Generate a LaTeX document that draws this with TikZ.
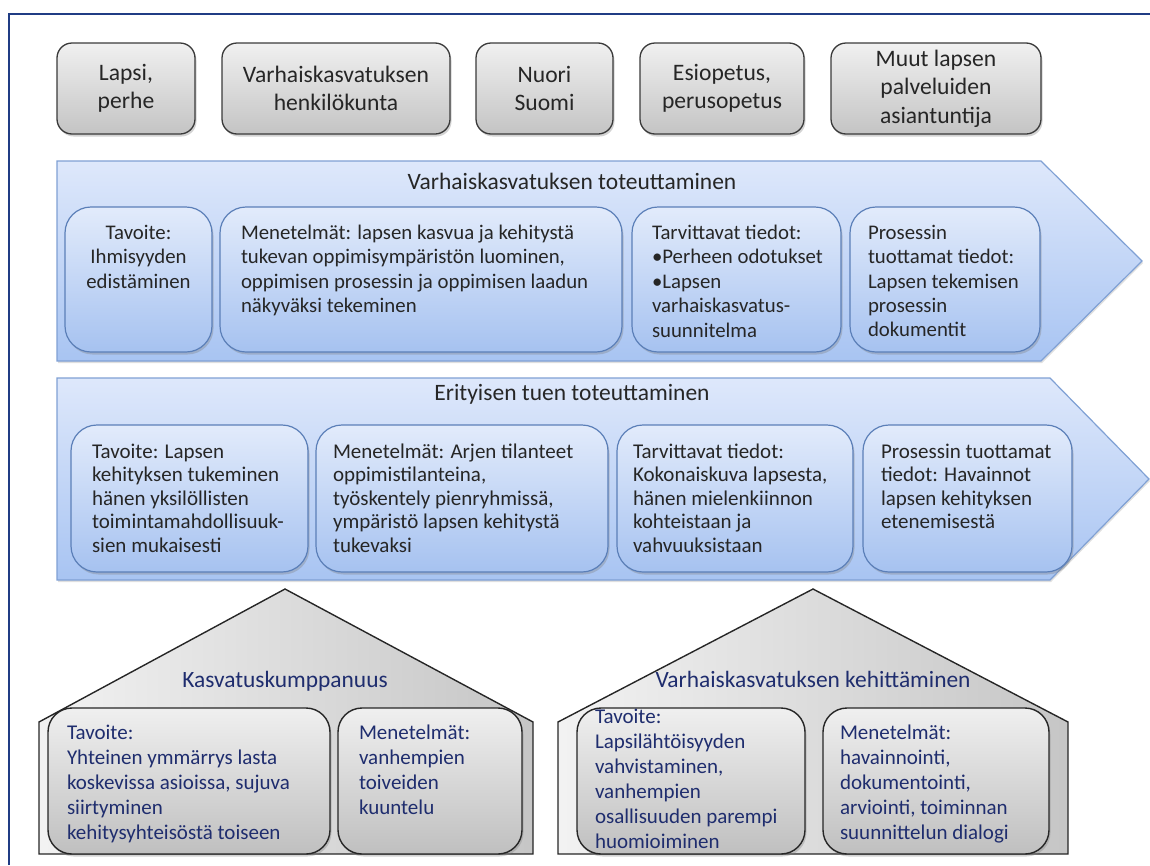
\documentclass[tikz,border=0pt]{standalone}
\usepackage{fontspec}
\setmainfont{Carlito}
\usetikzlibrary{shadows}

\definecolor{kehys}{HTML}{203C84}
\definecolor{muste}{HTML}{262626}
\definecolor{talomuste}{HTML}{1F2D6E}
\definecolor{reuna}{HTML}{3A3A3A}
\definecolor{ylaharmaa}{HTML}{F0F0F0}
\definecolor{alaharmaa}{HTML}{C4C4C4}
\definecolor{nuolireuna}{HTML}{7FA0D4}
\definecolor{nuoliyla}{HTML}{DEE8FB}
\definecolor{nuoliala}{HTML}{A8C4F2}
\definecolor{laatikkoreuna}{HTML}{5B7FB8}
\definecolor{laatikkoyla}{HTML}{E2EBFB}
\definecolor{laatikkoala}{HTML}{A6C2F0}

\begin{document}
\begin{tikzpicture}[x=1pt, y=-1pt,
  every node/.style={inner sep=0pt, outer sep=0pt},
  varjo/.style={drop shadow={shadow xshift=1.5pt, shadow yshift=-2.5pt, opacity=0.35}},
  toppaket/.style={varjo, draw=reuna, line width=1.3pt, rounded corners=15pt, top color=ylaharmaa, bottom color=alaharmaa, minimum height=91pt, align=center, text=muste, font=\fontsize{23.6}{28.5}\selectfont},
  nuoli/.style={draw=nuolireuna, line width=1.2pt, top color=nuoliyla, bottom color=nuoliala, drop shadow={shadow xshift=1pt, shadow yshift=-2pt, opacity=0.25}},
  sininen/.style={varjo, draw=laatikkoreuna, line width=1.2pt, rounded corners=26pt, top color=laatikkoyla, bottom color=laatikkoala},
  otsikko/.style={anchor=base, text=muste, font=\fontsize{23.5}{28}\selectfont},
  teksti/.style={anchor=north west, align=left, text=muste, font=\fontsize{20.8}{24.4}\selectfont},
  teksti2/.style={anchor=north west, align=left, text=muste, font=\fontsize{21}{23.4}\selectfont},
  talo/.style={draw=black!85, line width=1.4pt, left color=gray!10, right color=gray!45},
  harmaa/.style={varjo, draw=black!85, line width=1.4pt, rounded corners=24pt, top color=gray!12, bottom color=gray!50},
  talootsikko/.style={anchor=base, text=talomuste, font=\fontsize{23.4}{28}\selectfont},
  taloteksti/.style={anchor=north west, align=left, text=talomuste, font=\fontsize{21}{25}\selectfont}]
\useasboundingbox (0,0) rectangle (1150,865);
\draw[kehys, line width=2pt] (9,865) -- (9,14) -- (1150,14);

\node[toppaket, minimum width=138pt] (lapsi) at (126,88.5) {Lapsi,\\perhe};
\node[toppaket, minimum width=228pt] (henkilokunta) at (336,88.5) {Varhaiskasvatuksen\\henkilökunta};
\node[toppaket, minimum width=137pt] (nuori) at (544.5,88.5) {Nuori\\Suomi};
\node[toppaket, minimum width=164pt] (esiopetus) at (722,88.5) {Esiopetus,\\perusopetus};
\node[toppaket, minimum width=210pt] (asiantuntija) at (936,88.5) {Muut lapsen\\palveluiden\\asiantuntija};

\draw[nuoli] (57,161) -- (1041,161) -- (1142,261) -- (1041,361) -- (57,361) -- cycle;
\node[otsikko] (toteutus) at (572,189) {Varhaiskasvatuksen toteuttaminen};
\node[sininen, minimum width=147pt, minimum height=145pt] (vk-tavoite) at (138.5,279.5) {};
\node[sininen, minimum width=402pt, minimum height=145pt] (vk-menetelmat) at (421,279.5) {};
\node[sininen, minimum width=209pt, minimum height=145pt] (vk-tiedot) at (736.5,279.5) {};
\node[sininen, minimum width=190pt, minimum height=145pt] (vk-tuotos) at (945,279.5) {};
\node[teksti, anchor=north, align=center] (vk-tavoite-t) at (138.5,225) {Tavoite:\\Ihmisyyden\\edistäminen};
\node[teksti] (vk-menetelmat-t) at (241,225) {Menetelmät: lapsen kasvua ja kehitystä\\tukevan oppimisympäristön luominen,\\oppimisen prosessin ja oppimisen laadun\\näkyväksi tekeminen};
\node[teksti] (vk-tiedot-t) at (652,225) {Tarvittavat tiedot:\\•Perheen odotukset\\•Lapsen\\varhaiskasvatus-\\suunnitelma};
\node[teksti] (vk-tuotos-t) at (868,225) {Prosessin\\tuottamat tiedot:\\Lapsen tekemisen\\prosessin\\dokumentit};

\draw[nuoli] (57,378) -- (1050,378) -- (1149,479) -- (1050,580) -- (57,580) -- cycle;
\node[otsikko] (erityinen) at (572,400) {Erityisen tuen toteuttaminen};
\node[sininen, minimum width=237pt, minimum height=147pt] (et-tavoite) at (189.5,498.5) {};
\node[sininen, minimum width=292pt, minimum height=147pt] (et-menetelmat) at (462,498.5) {};
\node[sininen, minimum width=236pt, minimum height=147pt] (et-tiedot) at (735,498.5) {};
\node[sininen, minimum width=209pt, minimum height=147pt] (et-tuotos) at (967.5,498.5) {};
\node[teksti2] (et-tavoite-t) at (92,444) {Tavoite: Lapsen\\kehityksen tukeminen\\hänen yksilöllisten\\toimintamahdollisuuk-\\sien mukaisesti};
\node[teksti2] (et-menetelmat-t) at (333,444) {Menetelmät: Arjen tilanteet\\oppimistilanteina,\\työskentely pienryhmissä,\\ympäristö lapsen kehitystä\\tukevaksi};
\node[teksti2] (et-tiedot-t) at (633,444) {Tarvittavat tiedot:\\Kokonaiskuva lapsesta,\\hänen mielenkiinnon\\kohteistaan ja\\vahvuuksistaan};
\node[teksti2] (et-tuotos-t) at (881,444) {Prosessin tuottamat\\tiedot: Havainnot\\lapsen kehityksen\\etenemisestä};

\draw[talo] (39,854) -- (39,722) -- (285,589) -- (533,722) -- (533,854) -- cycle;
\node[talootsikko] (kumppanuus) at (285,687) {Kasvatuskumppanuus};
\node[harmaa, minimum width=282pt, minimum height=146pt] (kk-tavoite) at (189,781) {};
\node[harmaa, minimum width=184pt, minimum height=146pt] (kk-menetelmat) at (430,781) {};
\node[taloteksti] (kk-tavoite-t) at (67,725) {Tavoite:\\Yhteinen ymmärrys lasta\\koskevissa asioissa, sujuva\\siirtyminen\\kehitysyhteisöstä toiseen};
\node[taloteksti] (kk-menetelmat-t) at (359,725) {Menetelmät:\\vanhempien\\toiveiden\\kuuntelu};

\draw[talo] (558,854) -- (558,722) -- (813,589) -- (1068,722) -- (1068,854) -- cycle;
\node[harmaa, minimum width=228pt, minimum height=146pt] (ke-tavoite) at (691,781) {};
\node[harmaa, minimum width=226pt, minimum height=146pt] (ke-menetelmat) at (936,781) {};
\node[talootsikko] (kehittaminen) at (813,687) {Varhaiskasvatuksen kehittäminen};
\node[taloteksti] (ke-tavoite-t) at (595,709) {Tavoite:\\Lapsilähtöisyyden\\vahvistaminen,\\vanhempien\\osallisuuden parempi\\huomioiminen};
\node[taloteksti] (ke-menetelmat-t) at (840,725) {Menetelmät:\\havainnointi,\\dokumentointi,\\arviointi, toiminnan\\suunnittelun dialogi};
\end{tikzpicture}
\end{document}
